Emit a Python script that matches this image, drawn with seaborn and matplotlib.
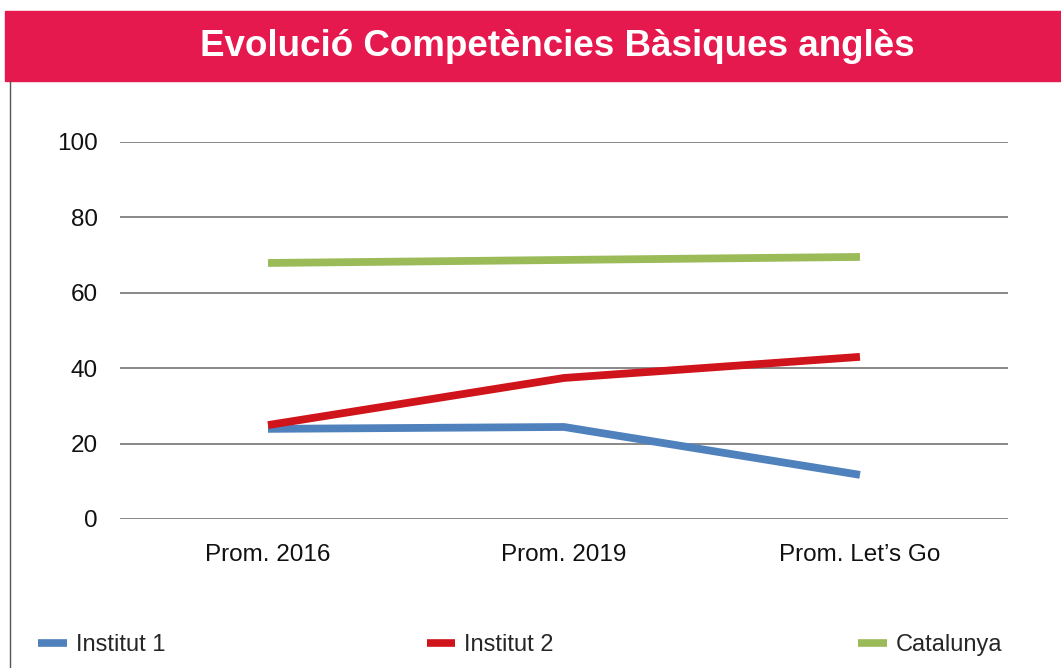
import pandas as pd
import matplotlib.pyplot as plt
import seaborn as sns
from matplotlib.patches import Rectangle
from matplotlib.lines import Line2D

# data
categories = ['Prom. 2016', 'Prom. 2019', 'Prom. Let\u2019s Go']
institut1 = [23.9, 24.4, 11.7]
institut2 = [24.9, 37.4, 43.0]
catalunya = [67.9, 68.7, 69.5]
series_names = ['Institut 1', 'Institut 2', 'Catalunya']
colors = ['#4F81BD', '#D0141B', '#9BBB59']

df = pd.DataFrame({
    'pos': [0, 1, 2] * 3,
    'val': institut1 + institut2 + catalunya,
    'serie': [s for s in series_names for _ in categories],
})

sns.set_theme(style='white')
plt.rcParams['font.family'] = ['Liberation Sans', 'DejaVu Sans']

fig = plt.figure(figsize=(10.61, 6.68), dpi=100)
ax = fig.add_axes([0.1131, 0.2231, 0.8369, 0.5644])

sns.lineplot(data=df, x='pos', y='val', hue='serie', palette=colors,
             linewidth=5.6, sort=False, legend=False, ax=ax)
for ln in ax.get_lines():
    ln.set_solid_capstyle('butt')
    ln.set_solid_joinstyle('miter')

ax.set_xlim(-0.5, 2.5)
ax.set_ylim(0, 100)
ax.set_yticks(range(0, 101, 20))
ax.set_xticks([0, 1, 2])
ax.set_xticklabels(categories)
ax.tick_params(axis='both', labelsize=17.5, colors='#111111', length=0)
ax.tick_params(axis='y', pad=16)
ax.tick_params(axis='x', pad=18)
ax.set_xlabel('')
ax.set_ylabel('')
ax.yaxis.grid(True, color='#7f7f7f', linewidth=1.3)
ax.set_axisbelow(True)
for s in ax.spines.values():
    s.set_visible(False)

# title banner
fig.patches.append(Rectangle((5 / 1061, 1 - 81 / 668), 1, 70 / 668,
                             transform=fig.transFigure, color='#E6194F', zorder=0))
fig.text(0.525, 1 - 47 / 668, 'Evoluci\u00f3 Compet\u00e8ncies B\u00e0siques angl\u00e8s',
         ha='center', va='center', color='white', fontsize=26.5, fontweight='bold')
fig.add_artist(Line2D([10 / 1061, 10 / 1061], [0, 1 - 81 / 668],
                      transform=fig.transFigure, color='#555555', linewidth=1))

# legend, one per entry
leg_x = [0.036, 0.402, 0.809]
for name, col, x in zip(series_names, colors, leg_x):
    h = Line2D([], [], color=col, linewidth=5.5, solid_capstyle='butt')
    fig.legend([h], [name], loc='center left', bbox_to_anchor=(x, 1 - 645 / 668),
               frameon=False, fontsize=17, handlelength=1.2, handletextpad=0.4,
               borderaxespad=0, borderpad=0)

fig.savefig('out.png', dpi=100)
